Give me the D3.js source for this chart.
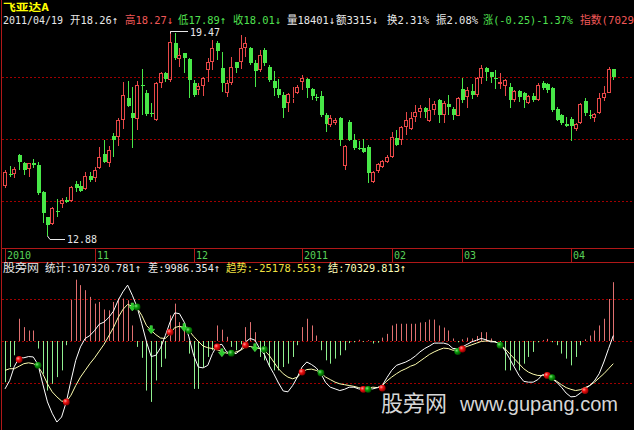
<!DOCTYPE html>
<html><head><meta charset="utf-8">
<script src="https://cdn.jsdelivr.net/npm/d3@7"></script>
<style>
html,body{margin:0;padding:0;background:#000;overflow:hidden;}
svg{display:block;}
</style></head><body>
<svg id="c" width="634" height="430"></svg>
<script>
// ---------------- data ----------------
const open=[14.49,14.87,14.87,15.48,15.22,15.02,15.22,15.16,14.30,13.47,13.26,13.68,13.90,14.03,14.01,14.54,14.50,14.38,14.81,14.73,15.05,15.52,15.22,16.10,16.08,16.61,17.31,16.83,16.65,17.74,17.50,16.85,16.61,17.82,18.12,17.90,19.11,18.57,18.76,18.57,17.80,17.58,17.71,18.23,18.49,19.09,18.28,17.47,17.80,18.49,18.49,18.93,18.93,18.46,18.23,18.87,18.33,17.87,17.60,17.42,17.15,17.29,17.50,17.85,17.92,17.60,17.37,17.39,16.77,16.45,16.53,16.67,15.13,16.56,15.97,15.70,15.70,15.75,14.62,14.98,15.09,15.27,15.41,16.02,15.97,16.38,16.31,16.72,16.88,16.99,16.59,16.94,17.26,16.78,17.13,16.97,16.75,17.60,17.35,17.56,17.42,17.96,18.30,18.15,17.96,17.76,17.72,17.69,17.26,17.55,17.50,17.17,17.39,17.26,17.82,17.76,17.66,16.96,16.78,16.48,16.65,16.31,16.51,17.21,16.78,16.67,16.85,17.31,17.50,18.26];
const high=[15.00,15.14,15.11,15.52,15.27,15.24,15.34,15.27,14.33,13.50,13.80,14.07,14.09,14.14,14.50,14.66,14.66,14.95,14.95,15.11,15.75,15.97,15.77,16.18,16.67,17.85,17.88,17.69,17.87,18.25,17.58,17.17,17.85,18.17,18.17,19.47,19.43,18.93,18.78,18.60,17.90,17.80,18.01,18.60,19.19,19.17,18.82,17.90,18.66,18.49,19.36,19.30,18.96,18.55,18.87,18.93,18.39,18.19,17.92,17.53,17.50,17.69,17.74,18.06,17.96,17.63,17.45,17.56,16.83,16.77,16.67,16.70,15.81,16.61,16.16,15.95,15.99,15.81,14.98,15.22,15.32,15.48,16.24,16.29,16.42,16.88,16.88,17.10,17.10,17.04,17.31,17.21,17.28,17.24,17.42,17.04,17.37,17.96,17.69,17.77,17.99,18.39,18.31,18.17,18.23,18.14,17.93,17.82,17.58,17.58,17.53,17.42,17.47,17.80,17.87,17.80,17.69,17.04,16.81,16.72,16.70,16.53,17.15,17.31,16.94,16.85,17.47,17.71,18.31,18.27];
const low=[14.41,14.79,14.73,15.00,14.84,14.79,15.05,14.19,13.30,12.88,13.23,13.50,13.76,13.93,13.98,14.28,14.30,14.36,14.62,14.60,15.03,15.22,15.11,15.43,15.77,16.31,17.04,15.70,16.29,16.77,16.74,16.72,16.59,17.63,17.85,17.85,18.55,18.33,18.12,17.31,17.37,17.42,17.39,17.85,18.23,18.55,17.53,17.37,17.74,18.14,18.25,18.66,18.39,17.69,18.17,18.36,17.85,17.39,17.31,16.67,16.88,17.17,17.45,17.58,17.31,17.26,17.23,16.72,16.24,16.40,16.45,15.77,15.00,15.95,15.65,15.65,15.56,14.59,14.59,14.91,15.05,15.22,15.38,15.77,15.81,16.13,16.29,16.56,16.67,16.67,16.56,16.78,16.51,16.51,16.78,16.61,16.74,17.15,16.99,17.28,17.34,17.76,17.88,17.80,17.60,17.60,17.39,16.99,17.20,17.20,16.99,17.13,17.20,17.24,17.58,17.47,16.88,16.59,16.45,16.38,15.95,16.27,16.48,16.74,16.64,16.56,16.81,17.24,17.47,17.89];
const close=[14.95,14.83,15.02,15.27,15.00,15.22,15.16,14.25,13.60,13.23,13.76,13.65,14.03,13.97,14.46,14.41,14.33,14.81,14.68,15.00,15.43,15.27,15.65,15.97,16.61,17.42,17.07,16.67,17.74,17.71,16.81,16.81,17.80,18.12,17.92,19.14,18.60,18.71,18.60,17.90,17.42,17.71,17.96,18.49,18.93,18.85,17.80,17.80,18.33,18.28,18.93,19.09,18.44,18.20,18.71,18.44,17.90,17.63,17.42,16.99,17.45,17.33,17.69,17.96,17.63,17.39,17.33,16.77,16.48,16.67,16.61,15.97,15.77,15.97,15.70,15.67,15.59,14.89,14.95,15.19,15.30,15.41,16.08,15.81,16.38,16.61,16.67,16.88,16.99,16.88,16.94,17.13,16.78,17.15,17.04,16.78,17.31,17.26,17.58,17.42,17.96,18.28,18.17,17.99,17.93,17.85,17.90,17.26,17.55,17.37,17.26,17.39,17.26,17.74,17.63,17.58,16.94,16.61,16.51,16.43,16.43,16.48,17.12,16.85,16.74,16.81,17.31,17.50,18.26,18.01];

const hist=[-98,-62,-34,53,33,25,25,-18,-78,-118,-102,-86,-70,-10,98,146,133,121,105,89,93,75,73,93,101,101,97,37,-14,-40,-118,-145,-94,-62,-42,61,89,45,25,-30,-114,-114,-62,-38,-22,37,27,10,-14,-22,-8,33,45,21,-38,-46,-62,-70,-70,-62,-54,-38,-10,33,53,37,13,-22,-46,-54,-42,-34,-22,-5,-3,3,-2,2,-6,-4,8,17,37,41,41,41,41,41,44,45,51,51,37,32,25,6,-3,4,8,6,12,21,21,6,-4,-8,-70,-70,-58,-70,-54,-38,-26,-3,2,5,-3,-10,-30,-42,-58,-38,-10,4,13,25,37,53,100,140];
const whiteLine=[-114,-94,-60,-40,-40,-37,-38,-56,-102,-145,-172,-193,-181,-145,-94,-46,-14,6,13,25,40,45,56,71,97,117,133,109,81,41,-2,-37,-34,-16,13,45,67,65,45,10,-34,-62,-64,-58,-30,-10,-8,-26,-29,-30,-21,-2,6,2,-18,-32,-58,-78,-100,-119,-121,-106,-86,-62,-50,-56,-64,-78,-99,-110,-114,-118,-115,-110,-110,-114,-116,-114,-114,-111,-106,-87,-70,-58,-54,-50,-44,-36,-26,-18,-12,-5,-5,-5,-8,-18,-18,-14,-8,-2,2,6,3,-2,-2,-8,-22,-42,-62,-82,-96,-98,-98,-92,-80,-82,-90,-98,-110,-124,-133,-132,-124,-114,-106,-95,-78,-50,-18,13];
const yellowLine=[-70,-66,-66,-60,-54,-52,-54,-60,-78,-102,-121,-133,-143,-145,-129,-106,-86,-70,-54,-40,-24,-8,12,32,56,75,87,83,79,61,37,25,15,7,6,17,32,35,32,25,11,-1,-12,-16,-18,-21,-25,-29,-30,-26,-22,-14,-13,-16,-18,-22,-34,-50,-66,-78,-86,-90,-86,-74,-68,-67,-70,-76,-86,-92,-98,-102,-104,-106,-108,-111,-114,-112,-110,-111,-106,-95,-86,-78,-71,-66,-60,-56,-48,-40,-32,-26,-21,-17,-18,-22,-21,-17,-13,-9,-5,-1,0,0,-2,-8,-18,-30,-42,-54,-66,-74,-79,-82,-82,-84,-88,-96,-104,-111,-115,-118,-116,-111,-106,-98,-88,-78,-66,-54];

const dotIdx=[3,7,13,27,28,31,35,38,39,45,46,48,51,53,55,63,67,76,77,80,96,97,105,115,116,123];
const dotVal=[-44,-58,-145,81,81,27,21,32,25,-14,-28,-29,-10,-16,-20,-74,-76,-115,-115,-112,-25,-19,-10,-82,-87,-118];
const dotKind=["red","green","red","arrow","green","arrow","red","arrow","green","red","arrow","green","red","arrow","green","red","green","red","green","red","green","red","green","red","green","red"];

const monthLabels=["2010","11","12","2011","02","03","04"];
const monthIdx=[0,19,40,63,82,97,120];
const priceGrid=[14,16,18];
const indGrid=[-100,0,100];

// header texts: [text, x, color]
const titleText="飞亚达A";
const quoteRuns=[["2011/04/19",3,"#e8e8e8"],["开18.26↑",70,"#e8e8e8"],["高18.27↓",125,"#f05858"],["低17.89↑",178,"#50e050"],["收18.01↓",233,"#50e050"],["量18401↓",287,"#e8e8e8"],["额3315↓",336,"#e8e8e8"],["换2.31%",387,"#e8e8e8"],["振2.08%",436,"#e8e8e8"],["涨(-0.25)-1.37%",483,"#50e050"],["指数(7029",580,"#f05858"]];
const indRuns=[["股旁网",3,"#e8e8e8"],["统计:107320.781↑",45,"#e8e8e8"],["差:9986.354↑",148,"#e8e8e8"],["趋势:-25178.553↑",226,"#f0e040"],["结:70329.813↑",328,"#ffffb8"]];

// ---------------- drawing ----------------
const W=634,H=430,N=close.length;
const svg=d3.select("#c");
svg.append("rect").attr("width",W).attr("height",H).attr("fill","#000");
const defs=svg.append("defs");
const gr=defs.append("radialGradient").attr("id","gRed").attr("cx","35%").attr("cy","35%").attr("r","65%");
gr.append("stop").attr("offset","0%").attr("stop-color","#ff9a9a");
gr.append("stop").attr("offset","45%").attr("stop-color","#f01010");
gr.append("stop").attr("offset","100%").attr("stop-color","#900000");
const gg=defs.append("radialGradient").attr("id","gGreen").attr("cx","35%").attr("cy","35%").attr("r","65%");
gg.append("stop").attr("offset","0%").attr("stop-color","#80e080");
gg.append("stop").attr("offset","45%").attr("stop-color","#0a9a0a");
gg.append("stop").attr("offset","100%").attr("stop-color","#005000");

const x=d3.scalePoint().domain(d3.range(N)).range([5,613.3]);
const yP=d3.scaleLinear().domain([14,18]).range([201,77]);
const yI=d3.scaleLinear().domain([-100,100]).range([383,299]);
const px=i=>Math.round(x(i));

const MONO="'DejaVu Sans Mono','Noto Sans CJK SC',monospace";
const isWide=c=>c.charCodeAt(0)>0x2e80;
const runW=s=>[...s].reduce((a,c)=>a+(isWide(c)?12:6),0);
function run(g,s,x0,y0,color,size){
  g.append("text").attr("x",x0).attr("y",y0).attr("fill",color)
   .attr("font-family",MONO).attr("font-size",size||11)
   .attr("textLength",runW(s)).attr("lengthAdjust","spacingAndGlyphs").text(s);
}

// grid lines
const grid=svg.append("g").attr("stroke","#a00000").attr("stroke-dasharray","2,2");
grid.selectAll("line.p").data(priceGrid).join("line").attr("class","p")
  .attr("x1",2).attr("x2",W).attr("y1",d=>Math.round(yP(d))+0.5).attr("y2",d=>Math.round(yP(d))+0.5);
grid.selectAll("line.i").data(indGrid).join("line").attr("class","i")
  .attr("x1",2).attr("x2",W).attr("y1",d=>Math.round(yI(d))+0.5).attr("y2",d=>Math.round(yI(d))+0.5);

// frame / axis band
const frame=svg.append("g").attr("stroke","#b01818").attr("stroke-width",1);
frame.append("line").attr("x1",1.5).attr("x2",1.5).attr("y1",0).attr("y2",H);
frame.append("line").attr("x1",1).attr("x2",W).attr("y1",248.5).attr("y2",248.5);
frame.append("line").attr("x1",1).attr("x2",W).attr("y1",262.5).attr("y2",262.5);
frame.selectAll("line.t").data(monthIdx).join("line").attr("class","t")
  .attr("x1",d=>px(d)+0.5).attr("x2",d=>px(d)+0.5).attr("y1",248).attr("y2",262);
svg.append("g").selectAll("text").data(monthLabels).join("text")
  .attr("x",(d,i)=>px(monthIdx[i])+2).attr("y",258.5).attr("fill","#58d058")
  .attr("font-family",MONO).attr("font-size",10).text(d=>d);

// candles
const cg=svg.append("g");
d3.range(N).forEach(i=>{
  const c=px(i), up=close[i]>=open[i];
  const col=up?"#e84848":"#48e848";
  const yt=Math.round(yP(Math.max(open[i],close[i]))), yb=Math.max(Math.round(yP(Math.min(open[i],close[i]))),yt+1);
  const yh=Math.round(yP(high[i])), yl=Math.round(yP(low[i]));
  if(up){
    if(yh<yt) cg.append("line").attr("x1",c+0.5).attr("x2",c+0.5).attr("y1",yh).attr("y2",yt).attr("stroke",col);
    if(yl>yb) cg.append("line").attr("x1",c+0.5).attr("x2",c+0.5).attr("y1",yb).attr("y2",yl).attr("stroke",col);
    cg.append("rect").attr("x",c-1.5).attr("y",yt+0.5).attr("width",3).attr("height",Math.max(yb-yt-1,0)).attr("fill","none").attr("stroke",col);
  }else{
    cg.append("line").attr("x1",c+0.5).attr("x2",c+0.5).attr("y1",yh).attr("y2",yl).attr("stroke",col);
    cg.append("rect").attr("x",c-1).attr("y",yt).attr("width",4).attr("height",yb-yt).attr("fill",col);
  }
});

// extreme annotations
const hi=d3.maxIndex(high), lo=d3.minIndex(low);
const ann=svg.append("g").attr("stroke","#e8e8e8").attr("fill","none");
const hy=Math.round(yP(high[hi]))+0.5;
ann.append("path").attr("d",`M${px(hi)+0.5},${hy+2}V${hy}H${px(hi)+18}`);
const ly=Math.round(yP(low[lo]));
ann.append("path").attr("d",`M${px(lo)+0.5},${ly}L${px(lo)+3},${ly+3.5}H${px(lo)+18}`);
run(svg,d3.format(".2f")(high[hi]),px(hi)+20,hy+4,"#e8e8e8",11);
run(svg,d3.format(".2f")(low[lo]),px(lo)+20,ly+7,"#e8e8e8",11);

// histogram
svg.append("g").selectAll("line").data(hist).join("line")
  .attr("x1",(d,i)=>px(i)+0.5).attr("x2",(d,i)=>px(i)+0.5)
  .attr("y1",yI(0)).attr("y2",d=>yI(d))
  .attr("stroke",d=>d>=0?"#e07070":"#90f090");

// lines
const lineGen=d3.line().x((d,i)=>x(i)).y(d=>yI(d));
svg.append("path").datum(yellowLine).attr("d",lineGen).attr("fill","none").attr("stroke","#ffffb0").attr("stroke-width",1);
svg.append("path").datum(whiteLine).attr("d",lineGen).attr("fill","none").attr("stroke","#ffffff").attr("stroke-width",1);

// signal dots
const dg=svg.append("g");
dotIdx.forEach((d,k)=>{
  const cx=x(d), cy=yI(dotVal[k]);
  if(dotKind[k]==="arrow"){
    dg.append("path").attr("d",`M${cx-1.2},${cy-4}H${cx+1.2}V${cy-0.5}H${cx+3.5}L${cx},${cy+4}L${cx-3.5},${cy-0.5}H${cx-1.2}Z`)
      .attr("fill","#28c828").attr("stroke","#60f060").attr("stroke-width",0.5);
  }else{
    dg.append("circle").attr("cx",cx).attr("cy",cy).attr("r",3.4)
      .attr("fill",dotKind[k]==="red"?"url(#gRed)":"url(#gGreen)");
  }
});

// header texts
svg.append("text").attr("x",3).attr("y",10.8).attr("fill","#ffff00")
  .attr("font-family",MONO).attr("font-size",10.5).attr("font-weight","bold")
  .attr("textLength",46).attr("lengthAdjust","spacingAndGlyphs").text(titleText);
quoteRuns.forEach(r=>run(svg,r[0],r[1],23.5,r[2],11));
indRuns.forEach(r=>run(svg,r[0],r[1],272,r[2],11));

// watermark
const wm=svg.append("g").attr("fill","#d6d6d6").attr("font-family","'Liberation Sans',Arial,sans-serif");
wm.append("text").attr("x",381).attr("y",411).attr("font-size",22).attr("font-family","'Noto Sans CJK SC',sans-serif").attr("textLength",66).text("股旁网");
wm.append("text").attr("x",460).attr("y",411).attr("font-size",21).attr("textLength",158).attr("lengthAdjust","spacingAndGlyphs").text("www.gupang.com");
</script>
</body></html>
